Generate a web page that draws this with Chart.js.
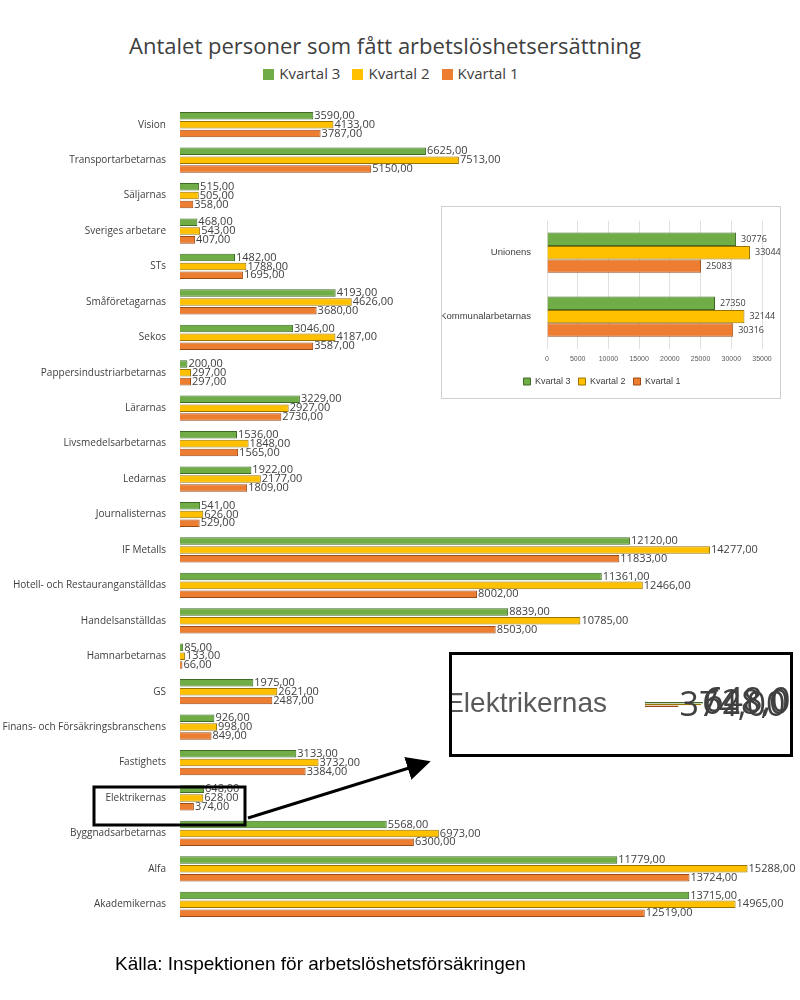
<!DOCTYPE html>
<html>
<head>
<meta charset="utf-8">
<script src="https://cdn.jsdelivr.net/npm/chart.js@4"></script>
<style>
  body { margin: 0; background: #fff; font-family: "Open Sans", sans-serif; }
  #page { position: relative; width: 800px; height: 1000px; overflow: hidden; }
  .abs { position: absolute; }
  canvas { display: block; }
  #title { left: 0; width: 770px; top: 30px; text-align: center; font-size: 22px; color: #404040; }
  #legend { left: 0; width: 770px; top: 63px; text-align: center; font-size: 15px; color: #404040; }
  #legend span.box { display: inline-block; width: 11px; height: 11px; margin: 0 5px 0 12px; vertical-align: -1px; }
  #source { left: 115px; top: 953px; font-family: "Liberation Sans", Arial, sans-serif; font-size: 19px; color: #000; }
  #inset { left: 441px; top: 206px; width: 338px; height: 191px; border: 1px solid #d0d0d0; background: #fff; }
  #zoombox { left: 449px; top: 652px; width: 338px; height: 99px; border: 3px solid #000; background: #fff; }
</style>
</head>
<body>
<div id="page">
  <div id="title" class="abs">Antalet personer som fått arbetslöshetsersättning</div>
  <div id="legend" class="abs"></div>
  <div class="abs" style="left:0;top:95px;"><canvas id="main" width="800" height="839"></canvas></div>
  <div id="inset" class="abs"><canvas id="insetChart" width="338" height="191"></canvas></div>
  <div id="zoombox" class="abs"><canvas id="zoomChart" width="338" height="99"></canvas></div>
  <svg class="abs" style="left:0;top:0" width="800" height="1000">
    <defs>
      <marker id="ah" markerWidth="8" markerHeight="8" refX="6" refY="4" orient="auto" markerUnits="strokeWidth">
        <path d="M0,0 L8,4 L0,8 Z" fill="#000"/>
      </marker>
    </defs>
    <rect x="94" y="787" width="151" height="38" fill="none" stroke="#000" stroke-width="3"/>
    <line x1="248" y1="818" x2="425" y2="763" stroke="#000" stroke-width="3" marker-end="url(#ah)"/>
  </svg>
  <div id="source" class="abs">Källa: Inspektionen för arbetslöshetsförsäkringen</div>
</div>
<script>
const categories = ['Vision', 'Transportarbetarnas', 'Säljarnas', 'Sveriges arbetare', 'STs',
  'Småföretagarnas', 'Sekos', 'Pappersindustriarbetarnas', 'Lärarnas', 'Livsmedelsarbetarnas',
  'Ledarnas', 'Journalisternas', 'IF Metalls', 'Hotell- och Restauranganställdas', 'Handelsanställdas',
  'Hamnarbetarnas', 'GS', 'Finans- och Försäkringsbranschens', 'Fastighets', 'Elektrikernas',
  'Byggnadsarbetarnas', 'Alfa', 'Akademikernas'];
const kvartal3 = [3590, 6625, 515, 468, 1482, 4193, 3046, 200, 3229, 1536, 1922, 541, 12120, 11361, 8839, 85, 1975, 926, 3133, 648, 5568, 11779, 13715];
const kvartal2 = [4133, 7513, 505, 543, 1788, 4626, 4187, 297, 2927, 1848, 2177, 626, 14277, 12466, 10785, 133, 2621, 998, 3732, 628, 6973, 15288, 14965];
const kvartal1 = [3787, 5150, 358, 407, 1695, 3680, 3587, 297, 2730, 1565, 1809, 529, 11833, 8002, 8503, 66, 2487, 849, 3384, 374, 6300, 13724, 12519];

const insetCategories = ['Unionens', 'Kommunalarbetarnas'];
const insetK3 = [30776, 27350];
const insetK2 = [33044, 32144];
const insetK1 = [25083, 30316];

const zoomCategory = ['Elektrikernas'];
const zoomK3 = [648];
const zoomK2 = [628];
const zoomK1 = [374];

const seriesNames = ['Kvartal 3', 'Kvartal 2', 'Kvartal 1'];
const fills = ['#70ad47', '#ffc000', '#ed7d31'];
const borders = ['#3e6b26', '#9a7400', '#9c4a14'];

document.getElementById('legend').innerHTML = seriesNames.map((n, i) =>
  '<span class="box" style="background:' + fills[i] + '"></span>' + n).join('');

function makeSets(arrs, bw) {
  return arrs.map((d, i) => ({
    label: seriesNames[i], data: d,
    backgroundColor: fills[i], borderColor: borders[i], borderWidth: bw
  }));
}

function valueLabels(fontSize, fmt, dx) {
  return {
    id: 'valueLabels',
    afterDatasetsDraw(chart) {
      const ctx = chart.ctx;
      ctx.save();
      ctx.font = fontSize + 'px "Open Sans", sans-serif';
      ctx.fillStyle = '#404040';
      ctx.textBaseline = 'middle';
      chart.data.datasets.forEach((ds, di) => {
        chart.getDatasetMeta(di).data.forEach((bar, i) => {
          ctx.fillText(fmt(ds.data[i]), bar.x + dx, bar.y);
        });
      });
      ctx.restore();
    }
  };
}
const fmt2 = v => v.toFixed(2).replace('.', ',');

new Chart(document.getElementById('main'), {
  type: 'bar',
  data: { labels: categories, datasets: makeSets([kvartal3, kvartal2, kvartal1], 1) },
  options: {
    indexAxis: 'y', responsive: false, animation: false,
    layout: { padding: { right: 26 } },
    datasets: { bar: { categoryPercentage: 0.75, barPercentage: 0.85 } },
    plugins: { legend: { display: false }, tooltip: { enabled: false } },
    scales: {
      x: { display: false, min: 0, max: 16000 },
      y: {
        grid: { display: false }, border: { display: false },
        afterFit(s) { s.width = 180; },
        ticks: { color: '#404040', font: { size: 10, family: 'Open Sans' }, padding: 6 }
      }
    }
  },
  plugins: [valueLabels(11, fmt2, 1)]
});

new Chart(document.getElementById('insetChart'), {
  type: 'bar',
  data: { labels: insetCategories, datasets: makeSets([insetK3, insetK2, insetK1], 1) },
  options: {
    indexAxis: 'y', responsive: false, animation: false,
    layout: { padding: { top: 7, right: 18, bottom: 2 } },
    datasets: { bar: { categoryPercentage: 0.63, barPercentage: 1 } },
    plugins: {
      legend: { position: 'bottom', labels: { boxWidth: 7, boxHeight: 7, padding: 8, color: '#404040', font: { size: 9 } } },
      tooltip: { enabled: false }
    },
    scales: {
      x: {
        min: 0, max: 35000, border: { display: false },
        grid: { color: '#e0e0e0', drawTicks: false },
        ticks: { stepSize: 5000, color: '#595959', font: { size: 7 }, padding: 6, callback: v => String(v) }
      },
      y: {
        grid: { display: false }, border: { display: false },
        afterFit(s) { s.width = 105; },
        ticks: { color: '#404040', font: { size: 9.5 }, padding: 8 }
      }
    }
  },
  plugins: [valueLabels(9, v => String(v), 5)]
});

new Chart(document.getElementById('zoomChart'), {
  type: 'bar',
  data: { labels: zoomCategory, datasets: makeSets([zoomK3, zoomK2, zoomK1], 1) },
  options: {
    indexAxis: 'y', responsive: false, animation: false,
    layout: { padding: { top: 16, bottom: 12 } },
    datasets: { bar: { categoryPercentage: 1, barPercentage: 0.88 } },
    plugins: { legend: { display: false }, tooltip: { enabled: false } },
    scales: {
      x: { display: false, min: 0, max: 1620 },
      y: {
        grid: { display: false }, border: { color: '#e0e0e0' },
        afterFit(s) { s.width = 193; },
        ticks: { color: '#595959', font: { size: 28 }, padding: 30 }
      }
    }
  },
  plugins: [valueLabels(34, fmt2, 1)]
});
</script>
</body>
</html>
